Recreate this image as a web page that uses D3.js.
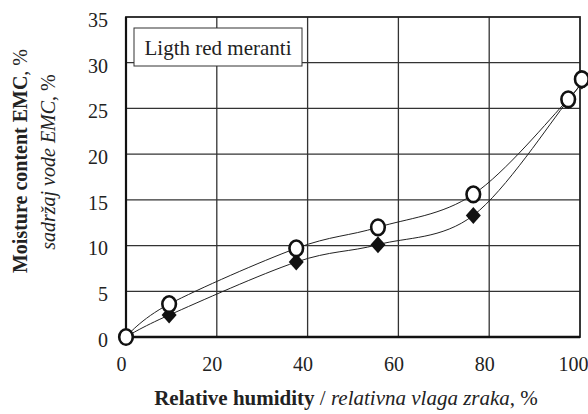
<!DOCTYPE html>
<html><head><meta charset="utf-8">
<script src="https://cdn.jsdelivr.net/npm/d3@7"></script>
<style>body{margin:0;background:#fff}svg{display:block}</style>
</head><body>
<script>
const humidity = [0, 9.5, 37.5, 55.5, 76.5, 97.4, 100.4];
const emcOpen = [0, 3.6, 9.7, 12.0, 15.6, 26.0, 28.2];
const emcFilled = [0, 2.4, 8.2, 10.1, 13.3, 25.9, 28.0];
const xTicks = [0, 20, 40, 60, 80, 100];
const yTicks = [0, 5, 10, 15, 20, 25, 30, 35];
const legendLabel = "Ligth red meranti";

const FONT = '"Liberation Serif", "Times New Roman", "DejaVu Serif", serif';
const W = 588, H = 414;
const svg = d3.select("body").append("svg").attr("width", W).attr("height", H)
  .style("font-family", FONT);
const x = d3.scaleLinear().domain([0,100]).range([126, 580]);
const y = d3.scaleLinear().domain([0,35]).range([337, 17]);

// grid
const g = svg.append("g");
g.selectAll("line.vx").data(xTicks.slice(1,-1)).join("line").attr("class","vx")
  .attr("x1", d=>x(d)).attr("x2", d=>x(d)).attr("y1", y(0)).attr("y2", y(35))
  .attr("stroke", "#333").attr("stroke-width", 1.3);
g.selectAll("line.hy").data(yTicks.slice(1,-1)).join("line").attr("class","hy")
  .attr("x1", x(0)).attr("x2", x(100)).attr("y1", d=>y(d)).attr("y2", d=>y(d))
  .attr("stroke", "#333").attr("stroke-width", 1.3);
svg.append("rect").attr("x", x(0)).attr("y", y(35)).attr("width", x(100)-x(0)).attr("height", y(0)-y(35))
  .attr("fill", "none").attr("stroke", "#222").attr("stroke-width", 1.8);
svg.append("line").attr("x1", x(0)).attr("x2", x(100)).attr("y1", y(0)).attr("y2", y(0))
  .attr("stroke", "#111").attr("stroke-width", 2.6);
svg.append("line").attr("x1", x(0)).attr("x2", x(0)).attr("y1", y(0)).attr("y2", y(35))
  .attr("stroke", "#111").attr("stroke-width", 2.2);

// tick labels via axes
const xAxis = svg.append("g").attr("transform", `translate(0,${y(0)})`)
  .call(d3.axisBottom(x).tickValues(xTicks).tickSize(0).tickPadding(20));
const yAxis = svg.append("g").attr("transform", `translate(${x(0)},0)`)
  .call(d3.axisLeft(y).tickValues(yTicks).tickSize(0).tickPadding(18));
[xAxis, yAxis].forEach(a => {
  a.attr("font-family", null).attr("font-size", null);
  a.select(".domain").remove();
  a.selectAll("text").style("font-family", FONT).style("font-size", "20px").attr("fill", "#222");
});
xAxis.selectAll("text").attr("dx", d => d === 100 ? -7 : -5);
yAxis.selectAll("text").attr("dy", "0.47em");

// legend box
svg.append("rect").attr("x", 134).attr("y", 28).attr("width", 168).attr("height", 38)
  .attr("fill", "#fff").attr("stroke", "#333").attr("stroke-width", 1);
svg.append("text").attr("x", 218).attr("y", 55).attr("text-anchor", "middle")
  .style("font-size", "21px").attr("fill", "#222").text(legendLabel);

// curves
const line = d3.line().curve(d3.curveCardinal.tension(0)).x(d=>x(d[0])).y(d=>y(d[1]));
const filledPts = humidity.map((h,i)=>[h, emcFilled[i]]);
const openPts = humidity.map((h,i)=>[h, emcOpen[i]]);
svg.append("path").attr("d", line(filledPts)).attr("fill","none").attr("stroke","#222").attr("stroke-width",1);
svg.append("path").attr("d", line(openPts)).attr("fill","none").attr("stroke","#222").attr("stroke-width",1);

// markers
svg.selectAll("path.dia").data(filledPts).join("path").attr("class","dia")
  .attr("d", d=>{const cx=x(d[0]), cy=y(d[1]); return `M${cx},${cy-8.5}L${cx+7.5},${cy}L${cx},${cy+8.5}L${cx-7.5},${cy}Z`;})
  .attr("fill", "#111");
svg.selectAll("ellipse.circ").data(openPts).join("ellipse").attr("class","circ")
  .attr("cx", d=>x(d[0])).attr("cy", d=>y(d[1])).attr("rx", 6.8).attr("ry", 7.8)
  .attr("fill", "#fff").attr("stroke", "#111").attr("stroke-width", 2.6);

// axis titles
const xt = svg.append("text").attr("x", 346).attr("y", 405).attr("text-anchor", "middle")
  .style("font-size", "21px").attr("fill", "#222");
xt.append("tspan").attr("font-weight", "bold").text("Relative humidity");
xt.append("tspan").text(" / ");
xt.append("tspan").attr("font-style", "italic").text("relativna vlaga zraka");
xt.append("tspan").text(", %");

const yt = svg.append("text").attr("transform", "translate(27,161) rotate(-90)").attr("text-anchor", "middle")
  .style("font-size", "20px").attr("fill", "#222");
yt.append("tspan").attr("font-weight", "bold").text("Moisture content EMC");
yt.append("tspan").text(", %");
const yt2 = svg.append("text").attr("transform", "translate(55,162) rotate(-90)").attr("text-anchor", "middle")
  .style("font-size", "20px").attr("fill", "#222");
yt2.append("tspan").attr("font-style", "italic").text("sadržaj vode EMC");
yt2.append("tspan").text(", %");
</script>
</body></html>
